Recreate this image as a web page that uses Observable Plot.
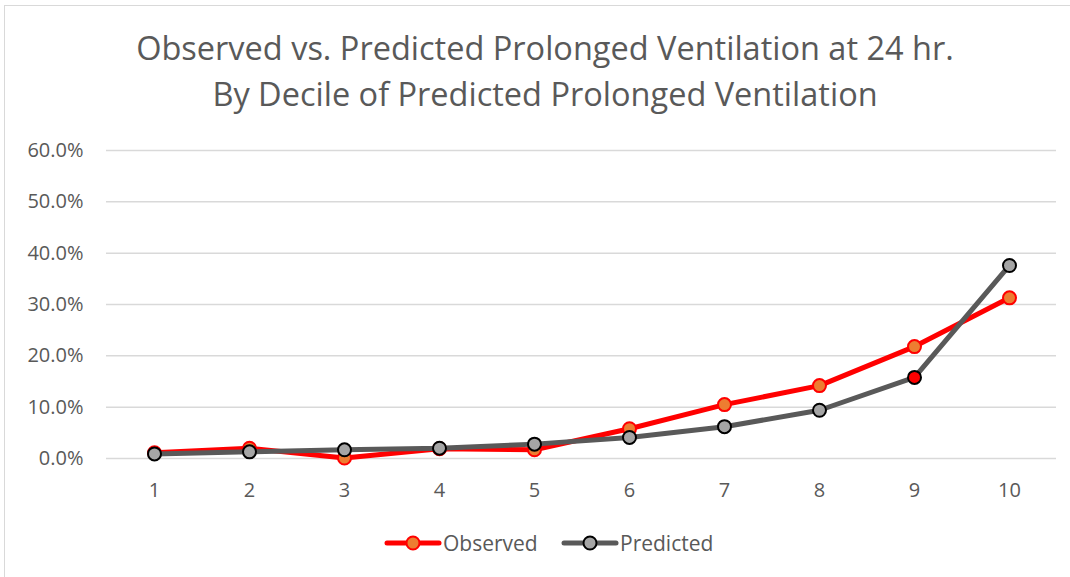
<!DOCTYPE html>
<html>
<head>
<meta charset="utf-8">
<script src="https://cdn.jsdelivr.net/npm/d3@7"></script>
<script src="https://cdn.jsdelivr.net/npm/@observablehq/plot@0.6"></script>
<style>
  body { margin: 0; background: #fff; font-family: "Open Sans", sans-serif; }
  #wrap { position: relative; width: 1070px; height: 577px; overflow: hidden; }
  #frame { position: absolute; left: 4px; top: 5px; width: 1100px; height: 600px; border-left: 1.5px solid #d9d9d9; border-top: 1.5px solid #d9d9d9; }
  #title { position: absolute; left: 0; top: 25px; width: 1090px; text-align: center; color: #595959; font-size: 32.5px; line-height: 46px; }
  #chart { position: absolute; left: 0; top: 130px; }
  #legend { position: absolute; left: 0; top: 530px; width: 1070px; height: 26px; }
  .lg { position: absolute; top: 0; display: flex; align-items: center; color: #595959; font-size: 21px; height: 26px; }
</style>
</head>
<body>
<div id="wrap">
  <div id="frame"></div>
  <div id="title">Observed vs. Predicted Prolonged Ventilation at 24 hr.<br>By Decile of Predicted Prolonged Ventilation</div>
  <div id="chart"></div>
  <div id="legend"></div>
</div>
<script>
const deciles = [1, 2, 3, 4, 5, 6, 7, 8, 9, 10];
const observed = [0.011, 0.020, 0.001, 0.019, 0.017, 0.058, 0.105, 0.142, 0.218, 0.313];
const predicted = [0.009, 0.013, 0.017, 0.020, 0.028, 0.041, 0.062, 0.094, 0.158, 0.376];
const yTicks = [0, 0.1, 0.2, 0.3, 0.4, 0.5, 0.6];
const seriesNames = ["Observed", "Predicted"];
const highlightDecile = 9;

const obsData = deciles.map((d, i) => ({decile: d, value: observed[i]}));
const predData = deciles.map((d, i) => ({decile: d, value: predicted[i]}));

const RED = "#ff0000", ORANGE = "#ed7d31", DARK = "#595959", GREY = "#a5a5a5";

const chart = Plot.plot({
  width: 1070,
  height: 400,
  marginLeft: 106,
  marginRight: 14,
  marginTop: 20,
  marginBottom: 72,
  style: {fontFamily: "Open Sans, sans-serif", fontSize: "20px", color: "#595959", background: "transparent"},
  x: {type: "point", domain: deciles, padding: 0.5, label: null},
  y: {domain: [0, 0.6], label: null},
  marks: [
    Plot.gridY(yTicks, {stroke: "#d9d9d9", strokeOpacity: 1, strokeWidth: 1.5}),
    Plot.axisY(yTicks, {tickSize: 0, tickPadding: 23, tickFormat: d3.format(".1%"), label: null, fill: "#595959", fontSize: 20}),
    Plot.axisX(deciles, {tickSize: 0, tickPadding: 24, label: null, fill: "#595959", fontSize: 20}),
    Plot.line(obsData, {x: "decile", y: "value", stroke: RED, strokeWidth: 5, strokeLinejoin: "round"}),
    Plot.dot(obsData, {x: "decile", y: "value", r: 6.5, fill: ORANGE, stroke: RED, strokeWidth: 2}),
    Plot.line(predData, {x: "decile", y: "value", stroke: DARK, strokeWidth: 5, strokeLinejoin: "round"}),
    Plot.dot(predData, {x: "decile", y: "value", r: 6.5, fill: d => d.decile === highlightDecile ? RED : GREY, stroke: "#000", strokeWidth: 2})
  ]
});
document.getElementById("chart").appendChild(chart);

const legend = document.getElementById("legend");
const items = [
  {name: seriesNames[0], line: RED, fill: ORANGE, stroke: RED, left: 384},
  {name: seriesNames[1], line: DARK, fill: GREY, stroke: "#000", left: 561}
];
for (const it of items) {
  const div = document.createElement("div");
  div.className = "lg";
  div.style.left = it.left + "px";
  div.innerHTML = `<svg width="58" height="26" style="margin-right:1px"><line x1="3" y1="13" x2="55" y2="13" stroke="${it.line}" stroke-width="5" stroke-linecap="round"/><circle cx="29" cy="13" r="6.5" fill="${it.fill}" stroke="${it.stroke}" stroke-width="2"/></svg><span>${it.name}</span>`;
  legend.appendChild(div);
}
</script>
</body>
</html>
